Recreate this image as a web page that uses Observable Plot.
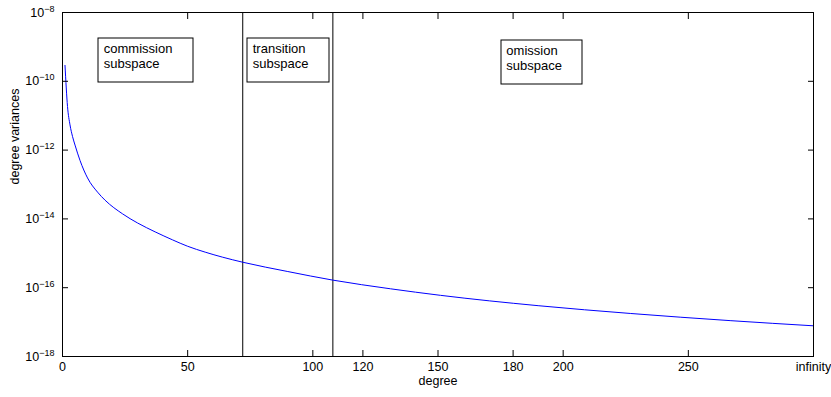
<!DOCTYPE html>
<html><head><meta charset="utf-8">
<script src="https://cdn.jsdelivr.net/npm/d3@7"></script>
<script src="https://cdn.jsdelivr.net/npm/@observablehq/plot@0.6"></script>
<style>body{margin:0;background:#fff} svg{display:block}</style>
</head><body><div id="chart"></div>
<script>
const degrees   = [1, 2, 3, 4, 5, 7, 10, 14, 17, 24, 30, 37, 44, 50, 57, 64, 72, 90, 108, 131, 151, 190, 227, 267, 300];
const variances = [2.9e-10, 1.86e-11, 5.4e-12, 2.5e-12, 1.4e-12, 5.0e-13, 1.55e-13, 6.0e-14, 3.5e-14, 1.4e-14, 7.6e-15, 4.2e-15, 2.45e-15, 1.6e-15, 1.08e-15, 7.7e-16, 5.5e-16, 2.95e-16, 1.66e-16, 9.3e-17, 6.0e-17, 3.0e-17, 1.78e-17, 1.1e-17, 7.8e-18];
const xTicks = [0, 50, 100, 120, 150, 180, 200, 250, 300];
const xTickLabels = ["0", "50", "100", "120", "150", "180", "200", "250", "infinity"];
const yTicks = [1e-8, 1e-10, 1e-12, 1e-14, 1e-16, 1e-18];
const yTickLabels = ["10^-8", "10^-10", "10^-12", "10^-14", "10^-16", "10^-18"];
const subspaceBounds = [72, 108];
const boxTexts = ["commission\nsubspace", "transition\nsubspace", "omission\nsubspace"];
const boxDegrees = [16.5, 76, 177.3];
const boxLevels = [5.5e-10, 5.5e-10, 4.9e-10];

const data = degrees.map((d, i) => ({degree: d, variance: variances[i]}));

const chart = Plot.plot({
  width: 831, height: 397,
  marginLeft: 62, marginRight: 18, marginTop: 12, marginBottom: 41,
  style: {fontFamily: "'Liberation Sans', Arial, sans-serif", fontSize: "12.5px", color: "black", background: "white"},
  x: {type: "linear", domain: [0, 300], label: null},
  y: {type: "log", domain: [1e-18, 1e-8], label: null},
  marks: [
    Plot.ruleX(subspaceBounds, {stroke: "black", strokeWidth: 1}),
    Plot.line(data, {x: "degree", y: "variance", stroke: "#0000ff", strokeWidth: 1, curve: "monotone-x"}),
    Plot.axisX(xTicks, {anchor: "bottom", tickSize: 0, tickPadding: 6, label: null, fontSize: 12.5,
      tickFormat: d => xTickLabels[xTicks.indexOf(d)]}),
    Plot.axisX(xTicks, {anchor: "bottom", tickSize: -6, tickFormat: () => "", label: null, stroke: "black"}),
    Plot.axisX(xTicks, {anchor: "top", tickSize: -6, tickFormat: () => "", label: null, stroke: "black"}),
    Plot.axisY(yTicks, {anchor: "left", tickSize: 0, tickPadding: 8, label: null, fontSize: 12.5,
      tickFormat: d => yTickLabels[yTicks.indexOf(d)]}),
    Plot.axisY(yTicks, {anchor: "left", tickSize: -6, tickFormat: () => "", label: null, stroke: "black"}),
    Plot.axisY(yTicks, {anchor: "right", tickSize: -6, tickFormat: () => "", label: null, stroke: "black"}),
    Plot.frame({stroke: "black", strokeWidth: 1}),
    Plot.text(boxTexts, {x: (d, i) => boxDegrees[i], y: (d, i) => boxLevels[i], text: d => d,
      textAnchor: "start", lineAnchor: "middle", fontSize: 13, lineHeight: 1.13, fill: "black"}),
    Plot.text(["degree variances"], {frameAnchor: "left", dx: -48, rotate: -90, fontSize: 12.5, fill: "black"}),
    Plot.text(["degree"], {frameAnchor: "bottom", dy: 28, fontSize: 12.5, fill: "black"})
  ]
});
document.getElementById("chart").append(chart);

// superscript exponents on y tick labels
chart.querySelectorAll('g[aria-label="y-axis tick label"] text').forEach(t => {
  const s = t.textContent;
  if (!s.includes("^")) return;
  const [base, exp] = s.split("^");
  t.textContent = base;
  const ts = document.createElementNS("http://www.w3.org/2000/svg", "tspan");
  ts.setAttribute("dy", "-0.55em");
  ts.setAttribute("font-size", "9px");
  ts.textContent = exp.replace("-", "\u2212");
  t.appendChild(ts);
});

// boxes around the subspace labels
Array.from(chart.querySelectorAll("text")).filter(t => t.textContent.includes("subspace")).forEach(t => {
  const b = t.getBBox();
  let e = 0, f = 0;
  const tl = t.transform && t.transform.baseVal;
  if (tl && tl.numberOfItems) { const m = tl.consolidate().matrix; e = m.e; f = m.f; }
  const r = document.createElementNS("http://www.w3.org/2000/svg", "rect");
  const x0 = Math.round(b.x + e - 6) + 0.5, y0 = Math.round(b.y + f - 3.5) + 0.5;
  const x1 = Math.round(b.x + e + b.width + 20) + 0.5, y1 = Math.round(b.y + f + b.height + 11) + 0.5;
  r.setAttribute("x", x0); r.setAttribute("y", y0);
  r.setAttribute("width", x1 - x0); r.setAttribute("height", y1 - y0);
  r.setAttribute("fill", "white"); r.setAttribute("stroke", "black"); r.setAttribute("stroke-width", "1");
  t.parentNode.insertBefore(r, t);
});
</script>
</body></html>
